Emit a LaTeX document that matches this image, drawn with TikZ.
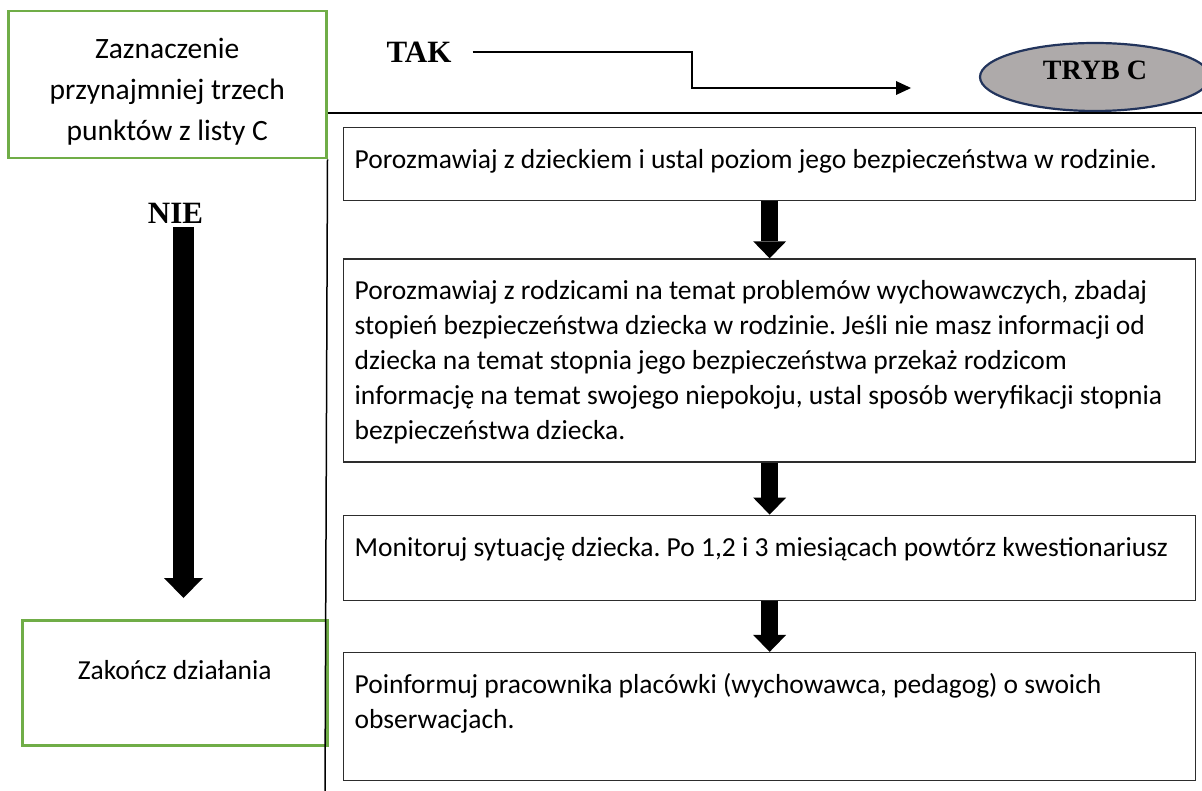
\documentclass[tikz,border=0pt]{standalone}
\usepackage{fontspec}
\usepackage{tikz}
\usepackage{xcolor}
\usetikzlibrary{positioning, arrows.meta, shapes.geometric}
\setmainfont{Carlito}
\newfontfamily\tnrfont{Liberation Serif}
\frenchspacing
\definecolor{boxgreen}{RGB}{112, 173, 71}
\definecolor{trybfill}{RGB}{174, 170, 170}
\definecolor{trybdraw}{RGB}{34, 52, 92}
\definecolor{boxblack}{RGB}{45, 45, 45}
\tikzset{
    stepbox/.style={draw=boxblack, line width=1.3pt, anchor=north west, text width=830pt, inner xsep=11pt, inner ysep=0pt, text height=41pt, align=flush left, font=\fontsize{27.5}{35}\selectfont},
    greenbox/.style={draw=boxgreen, line width=2.5pt, anchor=north west, inner xsep=14pt, inner ysep=0pt, align=flush center},
    decision/.style={inner sep=0pt, font=\tnrfont\bfseries\fontsize{31}{31}\selectfont},
    trybnode/.style={ellipse, draw=trybdraw, fill=trybfill, line width=2.2pt, minimum width=230pt, minimum height=68pt, inner sep=0pt, text height=20pt, text depth=15pt, font=\tnrfont\bfseries\fontsize{28}{28}\selectfont},
    divider/.style={draw=black, line width=1.5pt},
    flowline/.style={draw=black, line width=1.3pt, -{Triangle[length=15pt, width=14pt, line width=0pt]}},
    bigarrow/.style={line width=17pt, -{Triangle[length=17pt, width=33pt, line width=0pt]}},
    longarrow/.style={line width=21pt, -{Triangle[length=20pt, width=39pt, line width=0pt]}}
}
\begin{document}
\begin{tikzpicture}[x=1pt, y=-1pt]
    \useasboundingbox (0,0) rectangle (1202,791);
    \coordinate (rightedge) at (1202,113);
    \coordinate (bottomedge) at (325,791);
    \node[greenbox, text width=290pt, text height=47pt, text depth=100pt, font=\fontsize{29.5}{41}\selectfont] (zazn) at (7,10) {Zaznaczenie\\ przynajmniej trzech\\ punktów z listy C};
    \node[greenbox, text width=277pt, text height=59pt, text depth=66pt, font=\fontsize{27.5}{35}\selectfont] (done) at (21,619) {Zakończ działania};
    \node[decision] (tak) at (419,52) {TAK};
    \node[decision] (nie) at (175.5,213) {NIE};
    \node[trybnode] (tryb) at (1095,77) {TRYB C};
    \node[stepbox, text depth=32pt] (talkchild) at (343,127) {Porozmawiaj z dzieckiem i ustal poziom jego bezpieczeństwa w rodzinie.};
    \node[stepbox, text depth=162pt, below=57pt of talkchild] (talkparents) {Porozmawiaj z rodzicami na temat problemów wychowawczych, zbadaj\\ stopień bezpieczeństwa dziecka w rodzinie. Jeśli nie masz informacji od\\ dziecka na temat stopnia jego bezpieczeństwa przekaż rodzicom\\ informację na temat swojego niepokoju, ustal sposób weryfikacji stopnia\\ bezpieczeństwa dziecka.};
    \node[stepbox, text depth=44pt, below=52pt of talkparents] (monitor) {Monitoruj sytuację dziecka. Po 1,2 i 3 miesiącach powtórz kwestionariusz};
    \node[stepbox, text depth=87pt, below=51pt of monitor] (inform) {Poinformuj pracownika placówki (wychowawca, pedagog) o swoich\\ obserwacjach.};
    \draw[divider] (zazn.east |- rightedge) -- (rightedge);
    \draw[divider] (zazn.south east) -- (bottomedge);
    \coordinate (takbend) at (692,88);
    \coordinate (takend) at (911,88);
    \draw[flowline] ([xshift=21pt]tak.east) -| (takbend) -- (takend);
    \coordinate (nietop) at (183.5,227);
    \coordinate (nietip) at (183.5,598);
    \draw[longarrow] (nietop) -- (nietip);
    \draw[bigarrow] (talkchild.south) -- (talkparents.north);
    \draw[bigarrow] (talkparents.south) -- (monitor.north);
    \draw[bigarrow] (monitor.south) -- (inform.north);
\end{tikzpicture}
\end{document}
